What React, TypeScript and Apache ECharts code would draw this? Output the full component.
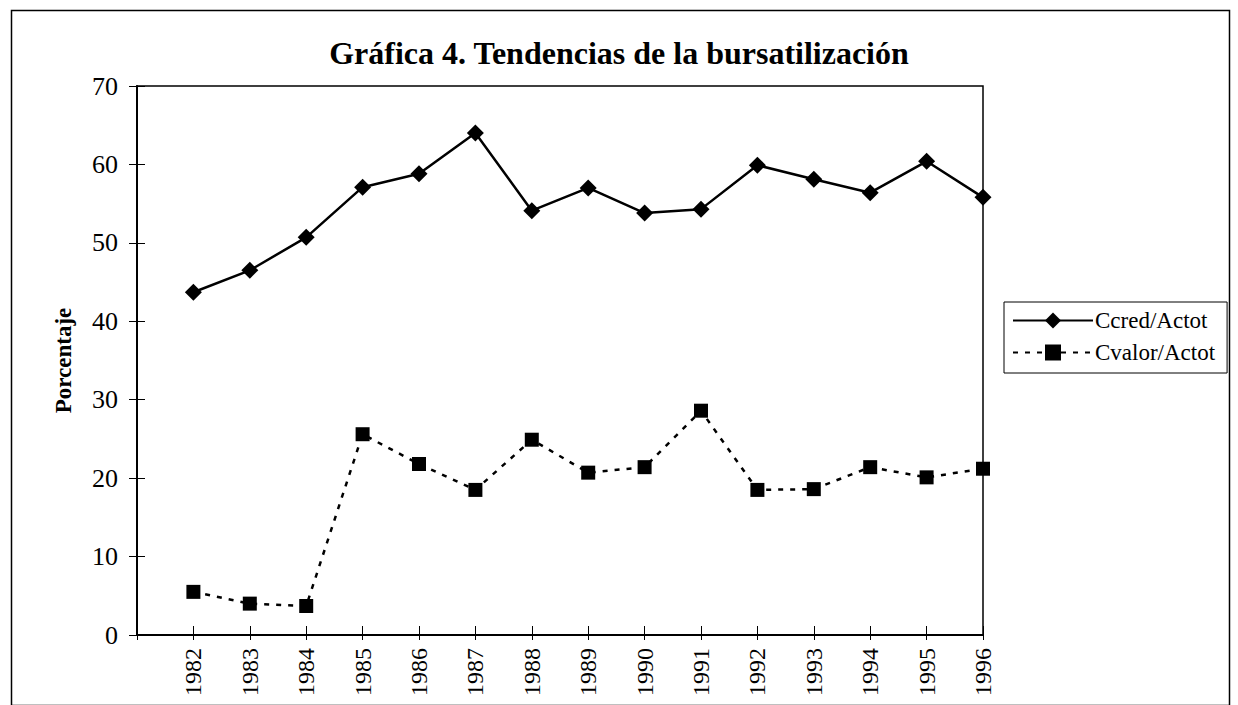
import React, { useEffect, useRef } from "react";
import * as echarts from "echarts";

const TITLE = "Gráfica 4. Tendencias de la bursatilización";
const Y_NAME = "Porcentaje";
const years = [1982, 1983, 1984, 1985, 1986, 1987, 1988, 1989, 1990, 1991, 1992, 1993, 1994, 1995, 1996];
const ccredActot = [43.7, 46.5, 50.7, 57.1, 58.8, 64.0, 54.1, 57.0, 53.8, 54.3, 59.9, 58.1, 56.4, 60.4, 55.8];
const cvalorActot = [5.5, 4.0, 3.7, 25.6, 21.8, 18.5, 24.9, 20.7, 21.4, 28.6, 18.5, 18.6, 21.4, 20.1, 21.2];
const seriesNames = ["Ccred/Actot", "Cvalor/Actot"];
const X_MIN = 1981;
const X_MAX = 1996;
const Y_MIN = 0;
const Y_MAX = 70;
const Y_STEP = 10;

const FONT = "'Liberation Serif', 'Times New Roman', serif";

export default function App() {
  const ref = useRef<HTMLDivElement>(null);
  useEffect(() => {
    if (!ref.current) return;
    const chart = echarts.init(ref.current, undefined, { renderer: "svg" });
    const xBase = {
      type: "value" as const,
      min: X_MIN,
      max: X_MAX,
      interval: 1,
      splitLine: { show: false },
    };
    const yBase = {
      type: "value" as const,
      min: Y_MIN,
      max: Y_MAX,
      interval: Y_STEP,
      splitLine: { show: false },
    };
    chart.setOption({
      animation: false,
      backgroundColor: "#ffffff",
      title: {
        text: TITLE,
        left: "center",
        top: 32,
        textStyle: { fontFamily: FONT, fontSize: 32, fontWeight: "bold", color: "#000" },
      },
      grid: {
        left: 137,
        top: 86,
        width: 846,
        height: 549,
        show: true,
        borderColor: "#000",
        borderWidth: 1.5,
        backgroundColor: "transparent",
      },
      legend: {
        left: 1004,
        top: 302,
        orient: "vertical",
        backgroundColor: "#fff",
        borderColor: "#000",
        borderWidth: 1,
        padding: [7, 12, 9, 8],
        itemGap: 9,
        itemWidth: 80,
        itemHeight: 20,
        textStyle: { fontFamily: FONT, fontSize: 23, color: "#000", padding: [0, 0, 0, -3] },
        data: seriesNames,
      },
      xAxis: [
        {
          ...xBase,
          position: "bottom",
          axisLine: { show: true, lineStyle: { color: "#000", width: 2 } },
          axisTick: { show: true, inside: false, length: 5, lineStyle: { color: "#000", width: 1 } },
          axisLabel: {
            rotate: 90,
            margin: 13,
            fontFamily: FONT,
            fontSize: 24,
            color: "#000",
            formatter: (v: number) => (years.includes(v) ? String(v) : ""),
          },
        },
        {
          ...xBase,
          position: "bottom",
          axisLine: { show: false },
          axisTick: { show: true, inside: true, length: 9, lineStyle: { color: "#000", width: 1 } },
          axisLabel: { show: false },
        },
      ],
      yAxis: [
        {
          ...yBase,
          position: "left",
          name: Y_NAME,
          nameLocation: "middle",
          nameRotate: 90,
          nameGap: 62,
          nameTextStyle: { fontFamily: FONT, fontSize: 23, fontWeight: "bold", color: "#000" },
          axisLine: { show: true, lineStyle: { color: "#000", width: 2 } },
          axisTick: { show: true, inside: false, length: 8, lineStyle: { color: "#000", width: 1 } },
          axisLabel: { margin: 19, fontFamily: FONT, fontSize: 26, color: "#000" },
        },
        {
          ...yBase,
          position: "left",
          axisLine: { show: false },
          axisTick: { show: true, inside: true, length: 8, lineStyle: { color: "#000", width: 1 } },
          axisLabel: { show: false },
        },
      ],
      graphic: [
        {
          type: "rect",
          left: 9,
          top: 8,
          shape: { width: 1218, height: 695 },
          style: { fill: "none", stroke: "#000", lineWidth: 1.5 },
          silent: true,
          z: -10,
        },
      ],
      series: [
        {
          name: seriesNames[0],
          type: "line",
          xAxisIndex: 0,
          yAxisIndex: 0,
          data: years.map((y, i) => [y, ccredActot[i]]),
          symbol: "diamond",
          symbolSize: 17,
          itemStyle: { color: "#000" },
          lineStyle: { color: "#000", width: 2.5, type: "solid" },
        },
        {
          name: seriesNames[1],
          type: "line",
          xAxisIndex: 0,
          yAxisIndex: 0,
          data: years.map((y, i) => [y, cvalorActot[i]]),
          symbol: "rect",
          symbolSize: 14,
          itemStyle: { color: "#000" },
          lineStyle: { color: "#000", width: 2.5, type: [5, 7] },
        },
      ],
    });
    return () => chart.dispose();
  }, []);
  return (
    <div
      ref={ref}
      style={{ position: "fixed", left: 0, top: 0, width: 1238, height: 705, background: "#fff" }}
    />
  );
}
